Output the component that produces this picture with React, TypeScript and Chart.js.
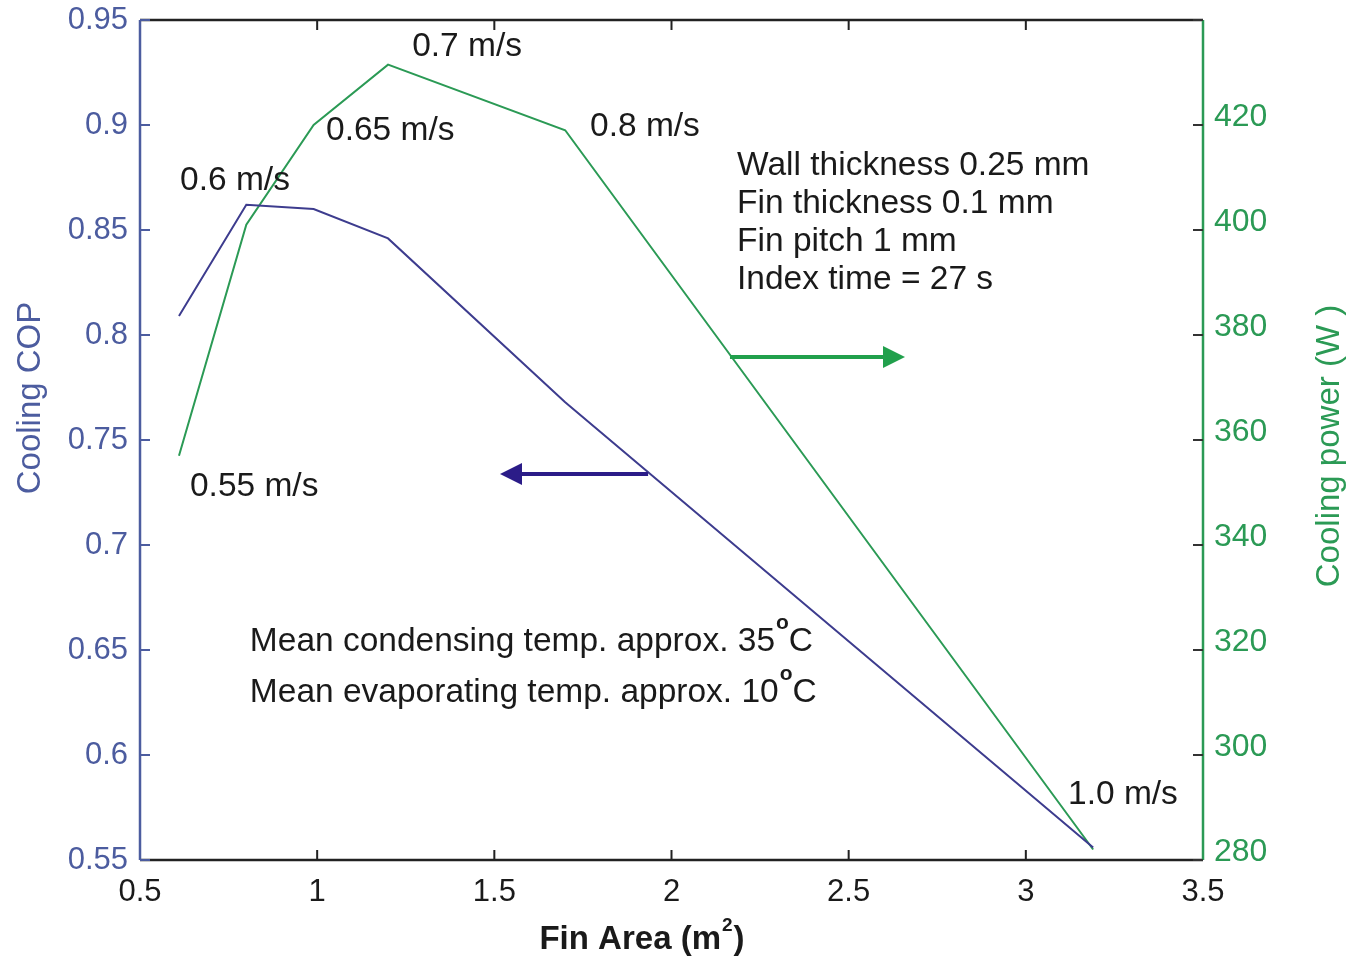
import React, { useEffect, useRef } from "react";
import { Chart, registerables } from "chart.js";

Chart.register(...registerables);

const finArea = [0.61, 0.8, 0.99, 1.2, 1.7, 3.19];
const coolingCOP = [0.809, 0.862, 0.86, 0.846, 0.768, 0.556];
const coolingPower = [357, 401, 420, 431.5, 419, 282];

const xTicks = { min: 0.5, max: 3.5, step: 0.5 };
const copTicks = { min: 0.55, max: 0.95, step: 0.05 };
const powerTicks = { min: 280, max: 440, step: 20 };

const speedLabels = [
  { text: "0.55 m/s", x: 0.641, y: 0.7276 },
  { text: "0.6 m/s", x: 0.613, y: 0.8733 },
  { text: "0.65 m/s", x: 1.025, y: 0.8971 },
  { text: "0.7 m/s", x: 1.268, y: 0.9371 },
  { text: "0.8 m/s", x: 1.77, y: 0.899 },
  { text: "1.0 m/s", x: 3.119, y: 0.581 },
];

const infoLines = ["Wall thickness 0.25 mm", "Fin thickness 0.1 mm", "Fin pitch 1 mm", "Index time = 27 s"];
const infoPos = { x: 2.185, y: [0.8805, 0.8624, 0.8443, 0.8262] };

const tempLines = [
  { pre: "Mean condensing temp. approx. 35", post: "C", y: 0.6538 },
  { pre: "Mean evaporating temp. approx. 10", post: "C", y: 0.6295 },
];
const tempX = 0.81;

const arrows = [
  { x1: 2.165, x2: 2.659, y: 0.7895, color: "#21a04c" },
  { x1: 1.934, x2: 1.516, y: 0.7338, color: "#2b1c88" },
];

const BLUE_AXIS = "#4c5c9f";
const BLUE_LINE = "#3d3c8e";
const GREEN = "#2b9a55";
const TEXT = "#1a1a1a";
const FONT = "'Liberation Sans', Arial, sans-serif";

const decorPlugin = {
  id: "decor",
  afterDraw(chart: any) {
    const ctx = chart.ctx;
    const a = chart.chartArea;
    const xs = chart.scales.x;
    const yl = chart.scales.y;
    const yr = chart.scales.y1;
    ctx.save();
    ctx.lineWidth = 2.5;
    ctx.strokeStyle = "#222";
    ctx.beginPath();
    ctx.moveTo(a.left, a.top);
    ctx.lineTo(a.right, a.top);
    ctx.moveTo(a.left, a.bottom);
    ctx.lineTo(a.right, a.bottom);
    ctx.stroke();
    const tl = 10;
    ctx.lineWidth = 2;
    ctx.beginPath();
    xs.ticks.forEach((t: any) => {
      const px = xs.getPixelForValue(t.value);
      ctx.moveTo(px, a.bottom);
      ctx.lineTo(px, a.bottom - tl);
      ctx.moveTo(px, a.top);
      ctx.lineTo(px, a.top + tl);
    });
    ctx.stroke();
    ctx.strokeStyle = BLUE_AXIS;
    ctx.lineWidth = 2.5;
    ctx.beginPath();
    ctx.moveTo(a.left, a.top);
    ctx.lineTo(a.left, a.bottom);
    ctx.stroke();
    ctx.lineWidth = 2;
    ctx.beginPath();
    yl.ticks.forEach((t: any) => {
      const py = yl.getPixelForValue(t.value);
      ctx.moveTo(a.left, py);
      ctx.lineTo(a.left + tl, py);
    });
    ctx.stroke();
    ctx.strokeStyle = GREEN;
    ctx.lineWidth = 2.5;
    ctx.beginPath();
    ctx.moveTo(a.right, a.top);
    ctx.lineTo(a.right, a.bottom);
    ctx.stroke();
    ctx.strokeStyle = "#333";
    ctx.lineWidth = 2;
    ctx.beginPath();
    yr.ticks.forEach((t: any) => {
      const py = yr.getPixelForValue(t.value);
      ctx.moveTo(a.right, py);
      ctx.lineTo(a.right - tl, py);
    });
    ctx.stroke();

    // axis titles
    ctx.textBaseline = "middle";
    ctx.fillStyle = TEXT;
    const big = `bold 33px ${FONT}`;
    const small = `bold 19px ${FONT}`;
    const tx = 641;
    const ty = 940;
    const t1 = "Fin Area (m";
    ctx.font = big;
    const w1 = ctx.measureText(t1).width;
    ctx.font = small;
    const w2 = ctx.measureText("2").width;
    ctx.font = big;
    const w3 = ctx.measureText(")").width;
    const start = tx - (w1 + w2 + w3) / 2;
    ctx.textAlign = "left";
    ctx.fillText(t1, start, ty);
    ctx.font = small;
    ctx.fillText("2", start + w1 + 1, ty - 14);
    ctx.font = big;
    ctx.fillText(")", start + w1 + w2 + 2, ty);

    ctx.textAlign = "center";
    ctx.font = `33px ${FONT}`;
    ctx.fillStyle = BLUE_AXIS;
    ctx.save();
    ctx.translate(31, 398);
    ctx.rotate(-Math.PI / 2);
    ctx.fillText("Cooling COP", 0, 0);
    ctx.restore();
    ctx.fillStyle = GREEN;
    ctx.save();
    ctx.translate(1330, 446);
    ctx.rotate(-Math.PI / 2);
    ctx.fillText("Cooling power (W )", 0, 0);
    ctx.restore();

    // annotations
    const ann = `33.5px ${FONT}`;
    ctx.fillStyle = TEXT;
    ctx.textAlign = "left";
    ctx.font = ann;
    speedLabels.forEach((l) => {
      ctx.fillText(l.text, xs.getPixelForValue(l.x), yl.getPixelForValue(l.y));
    });
    infoLines.forEach((s, i) => {
      ctx.fillText(s, xs.getPixelForValue(infoPos.x), yl.getPixelForValue(infoPos.y[i]));
    });
    tempLines.forEach((l) => {
      const px = xs.getPixelForValue(tempX);
      const py = yl.getPixelForValue(l.y);
      ctx.font = ann;
      ctx.fillText(l.pre, px, py);
      const w = ctx.measureText(l.pre).width;
      ctx.font = `bold 21px ${FONT}`;
      ctx.fillText("o", px + w + 1, py - 19);
      const wo = ctx.measureText("o").width;
      ctx.font = ann;
      ctx.fillText(l.post, px + w + wo + 1, py);
    });

    arrows.forEach((ar) => {
      const x1 = xs.getPixelForValue(ar.x1);
      const x2 = xs.getPixelForValue(ar.x2);
      const py = yl.getPixelForValue(ar.y);
      const dir = Math.sign(x2 - x1);
      const head = 22;
      ctx.strokeStyle = ar.color;
      ctx.fillStyle = ar.color;
      ctx.lineWidth = 4;
      ctx.beginPath();
      ctx.moveTo(x1, py);
      ctx.lineTo(x2 - dir * head, py);
      ctx.stroke();
      ctx.beginPath();
      ctx.moveTo(x2, py);
      ctx.lineTo(x2 - dir * head, py - 11);
      ctx.lineTo(x2 - dir * head, py + 11);
      ctx.closePath();
      ctx.fill();
    });
    ctx.restore();
  },
};

export default function App() {
  const ref = useRef<HTMLCanvasElement | null>(null);
  useEffect(() => {
    if (!ref.current) return;
    const chart = new Chart(ref.current, {
      type: "scatter",
      data: {
        datasets: [
          {
            label: "Cooling COP",
            data: finArea.map((x, i) => ({ x, y: coolingCOP[i] })),
            showLine: true,
            borderColor: BLUE_LINE,
            borderWidth: 2,
            pointRadius: 0,
            yAxisID: "y",
          },
          {
            label: "Cooling power (W)",
            data: finArea.map((x, i) => ({ x, y: coolingPower[i] })),
            showLine: true,
            borderColor: GREEN,
            borderWidth: 2,
            pointRadius: 0,
            yAxisID: "y1",
          },
        ],
      },
      options: {
        animation: false,
        responsive: true,
        maintainAspectRatio: false,
        layout: { padding: { top: 20 } },
        plugins: { legend: { display: false }, tooltip: { enabled: false } },
        scales: {
          x: {
            type: "linear",
            min: xTicks.min,
            max: xTicks.max,
            ticks: {
              stepSize: xTicks.step,
              color: TEXT,
              font: { family: FONT, size: 31 },
              padding: 14,
              maxRotation: 0,
              callback: (v: any) => String(Number(Number(v).toFixed(2))),
            },
            grid: { display: false, drawTicks: false },
            border: { display: false },
            afterFit: (s: any) => {
              s.height = 101;
              s.paddingLeft = 0;
              s.paddingRight = 0;
            },
          },
          y: {
            type: "linear",
            position: "left",
            min: copTicks.min,
            max: copTicks.max,
            ticks: {
              stepSize: copTicks.step,
              color: BLUE_AXIS,
              font: { family: FONT, size: 31 },
              padding: 12,
              callback: (v: any) => String(Number(Number(v).toFixed(2))),
            },
            grid: { display: false, drawTicks: false },
            border: { display: false },
            afterFit: (s: any) => {
              s.width = 140;
              s.paddingTop = 0;
              s.paddingBottom = 0;
            },
          },
          y1: {
            type: "linear",
            position: "right",
            min: powerTicks.min,
            max: powerTicks.max,
            ticks: {
              stepSize: powerTicks.step,
              color: GREEN,
              font: { family: FONT, size: 32 },
              padding: 11,
              labelOffset: -8,
              callback: (v: any) => (Number(v) >= powerTicks.max ? "" : String(v)),
            },
            grid: { display: false, drawTicks: false },
            border: { display: false },
            afterFit: (s: any) => {
              s.width = 153;
              s.paddingTop = 0;
              s.paddingBottom = 0;
            },
          },
        },
      } as any,
      plugins: [decorPlugin],
    });
    return () => chart.destroy();
  }, []);
  return (
    <div style={{ position: "fixed", left: 0, top: 0, width: 1356, height: 961, background: "#fff" }}>
      <canvas ref={ref} />
    </div>
  );
}
